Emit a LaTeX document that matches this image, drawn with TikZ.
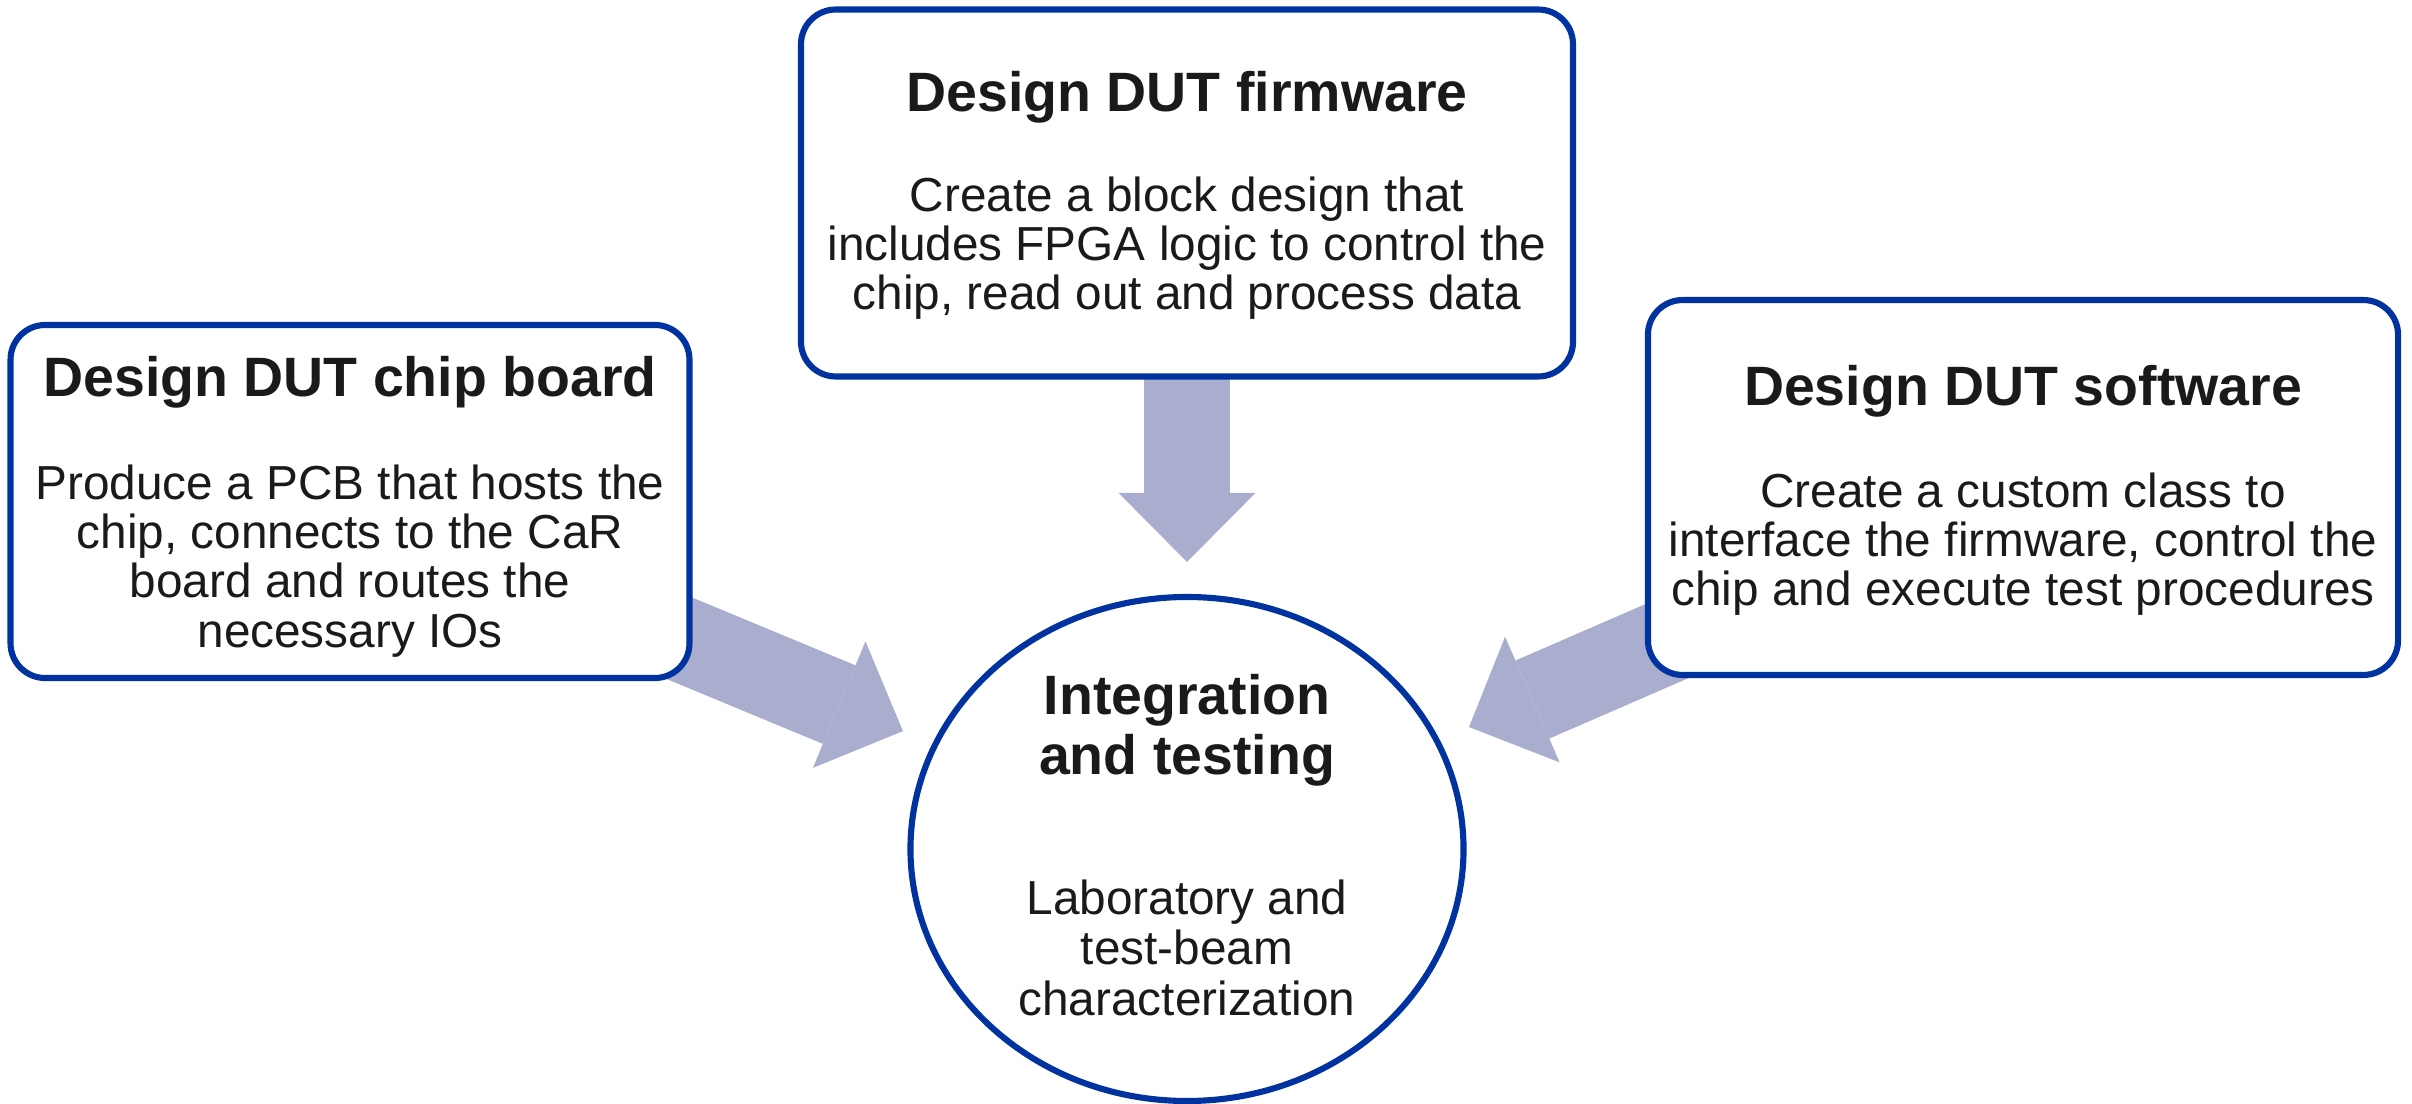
\documentclass[tikz,border=0pt]{standalone}
\usepackage{fontspec}
\setmainfont{Liberation Sans}
\usetikzlibrary{arrows.meta,shapes.geometric,backgrounds}
\definecolor{dutblue}{RGB}{0,51,160}
\definecolor{flowfill}{RGB}{170,174,206}
\definecolor{inktext}{RGB}{26,26,26}

\begin{document}
\begin{tikzpicture}[x=0.75pt,y=0.75pt,yscale=-1,xscale=1,
  stage/.style={draw=dutblue,line width=2.3pt,fill=white,rounded corners=13pt,inner sep=0pt},
  ttl/.style={anchor=base,inner sep=0.75pt,text=inktext,align=center,font=\fontsize{20.8}{22.5}\selectfont\bfseries},
  desc/.style={anchor=base,inner sep=0.75pt,text=inktext,align=center,font=\fontsize{17.9}{18.4}\selectfont},
  flow/.style={color=flowfill,line width=31.9pt,-{Triangle[width=51.4pt,length=25.9pt,line width=0pt]},shorten <=-20pt,shorten >=12pt}]
\useasboundingbox (0,0) rectangle (1206,552);

\node[stage,minimum width=254.6pt,minimum height=132.4pt] (chip) at (175,250.75) {};
\node[stage,minimum width=289.5pt,minimum height=137.6pt] (fw) at (593.5,96.5) {};
\node[stage,minimum width=281.3pt,minimum height=140.6pt] (sw) at (1011.5,243.75) {};
\node[draw=dutblue,line width=2.3pt,fill=white,ellipse,inner sep=0pt,minimum width=207.4pt,minimum height=189pt] (itest) at (593.5,424.5) {};

\begin{scope}[on background layer]
\draw[flow] (chip) -- (itest);
\draw[flow] (fw) -- (itest);
\draw[flow] (sw) -- (itest);
\end{scope}

% Text Node
\node[ttl] (chipT) at (175,198.5) {Design DUT chip board};
\node[desc] (chipB) at (175,323.5) {Produce a PCB that hosts the\\chip, connects to the CaR\\board and routes the\\necessary IOs};
% Text Node
\node[ttl] (fwT) at (593.5,56) {Design DUT firmware};
\node[desc] (fwB) at (593.5,154.6) {Create a block design that\\includes FPGA logic to control the\\chip, read out and process data};
% Text Node
\node[ttl] (swT) at (1011.5,203) {Design DUT software};
\node[desc] (swB) at (1011.5,302.6) {Create a custom class to\\interface the firmware, control the\\chip and execute test procedures};
% Text Node
\node[ttl] (itT) at (593.5,387) {Integration\\and testing};
\node[desc,font=\fontsize{17.9}{18.9}\selectfont] (itB) at (593.5,507.5) {Laboratory and\\test-beam\\characterization};
\end{tikzpicture}
\end{document}
